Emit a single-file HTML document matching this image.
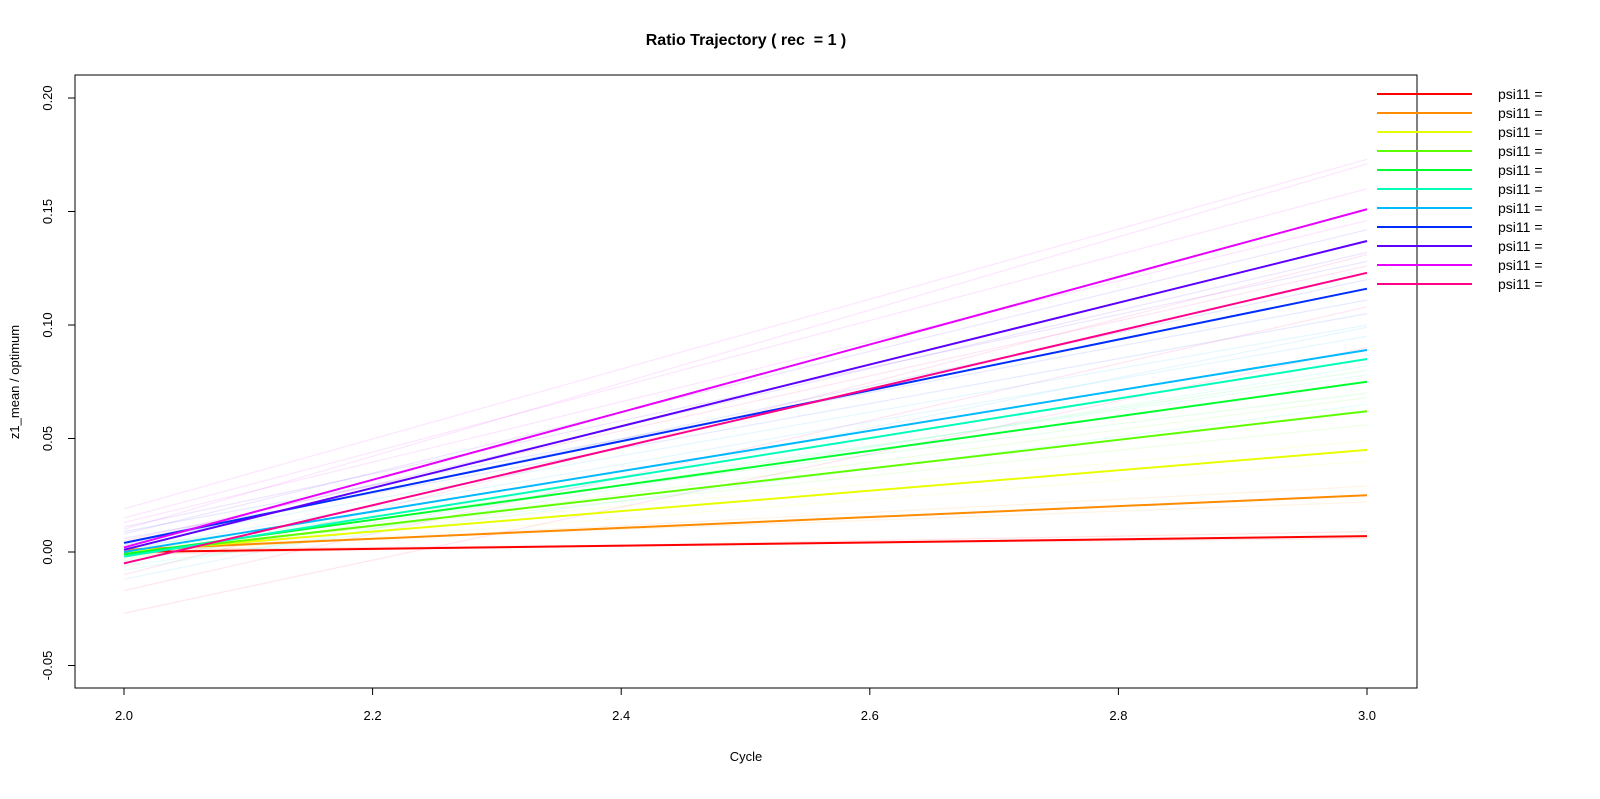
<!DOCTYPE html>
<html><head><meta charset="utf-8"><style>
html,body{margin:0;padding:0;background:#fff}
svg{display:block;font-family:"Liberation Sans",Arial,sans-serif}
</style></head><body>
<svg id="chart" width="1600" height="799" viewBox="0 0 1600 799" xmlns="http://www.w3.org/2000/svg">
<text x="746" y="45" text-anchor="middle" font-size="16" font-weight="bold">Ratio Trajectory ( rec &#160;= 1 )</text>
<text x="746" y="761" text-anchor="middle" font-size="13">Cycle</text>
<text transform="translate(19,382) rotate(-90)" text-anchor="middle" font-size="13">z1_mean / optimum</text>
<g id="faint"></g>
<g id="main"></g>
<rect x="75" y="75" width="1342" height="613" fill="none" stroke="#000" stroke-width="1"/>
<g id="axes"></g>
<g id="legend"></g>
</svg>
<script>
const xTicks = [2.0, 2.2, 2.4, 2.6, 2.8, 3.0];
const xTickLabels = ["2.0","2.2","2.4","2.6","2.8","3.0"];
const yTicks = [-0.05, 0, 0.05, 0.10, 0.15, 0.20];
const yTickLabels = ["-0.05","0.00","0.05","0.10","0.15","0.20"];
const cycles = [2, 3];
const seriesColors = ["#FF0000","#FF8B00","#E8FF00","#5DFF00","#00FF2E","#00FFB9","#00B9FF","#002EFF","#5D00FF","#E800FF","#FF008B"];
const seriesStart = [0.000, 0.001, 0.000, -0.001, -0.001, -0.002, 0.000, 0.004, 0.001, 0.002, -0.005];
const seriesEnd = [0.007, 0.025, 0.045, 0.062, 0.075, 0.085, 0.089, 0.116, 0.137, 0.151, 0.123];
const legendLabels = ["psi11 =","psi11 =","psi11 =","psi11 =","psi11 =","psi11 =","psi11 =","psi11 =","psi11 =","psi11 =","psi11 ="];
const faintColorIdx = [0,0,1,1,2,2,3,3,4,4,5,5,6,6,7,7,8,8,9,9,10,10,9,10,8,7,9,10,6,5];
const faintStart = [0.001,-0.001,0.002,0.000,-0.002,0.001,0.000,-0.003,0.002,-0.004,0.000,-0.008,0.001,-0.012,0.006,0.009,0.011,0.004,0.015,0.019,-0.017,-0.027,0.013,0.005,0.008,0.003,0.010,-0.010,0.004,-0.006];
const faintEnd = [0.006,0.009,0.022,0.029,0.040,0.049,0.056,0.068,0.070,0.080,0.078,0.082,0.095,0.099,0.105,0.111,0.128,0.132,0.160,0.173,0.108,0.090,0.146,0.126,0.142,0.120,0.171,0.131,0.100,0.065];
const X0=124, X1=1367, Y0=552, PX_PER=113.5/0.05;
const xs = v => X0 + (v-2)*(X1-X0);
const ys = v => Y0 - v*PX_PER;
const NS="http://www.w3.org/2000/svg";
function mk(tag, attrs, parent){const e=document.createElementNS(NS,tag);for(const k in attrs)e.setAttribute(k,attrs[k]);parent.appendChild(e);return e;}
const faint=document.getElementById('faint');
faintStart.forEach((s,i)=>{
 const l=mk('line',{x1:xs(cycles[0]),y1:ys(s),x2:xs(cycles[1]),y2:ys(faintEnd[i]),stroke:seriesColors[faintColorIdx[i]],'stroke-opacity':0.1,'stroke-width':1.2},faint);
 
 
});
const main=document.getElementById('main');
seriesStart.forEach((s,i)=>{
 const l=mk('line',{x1:xs(cycles[0]),y1:ys(s),x2:xs(cycles[1]),y2:ys(seriesEnd[i]),stroke:seriesColors[i],'stroke-width':2},main);
 
 
});
const axes=document.getElementById('axes');
mk('line',{x1:xs(xTicks[0]),y1:688,x2:xs(xTicks[xTicks.length-1]),y2:688,stroke:'#000'},axes);
xTicks.forEach((t,i)=>{
 mk('line',{x1:xs(t),y1:688,x2:xs(t),y2:695,stroke:'#000'},axes);
 const tx=mk('text',{x:xs(t),y:720,'text-anchor':'middle','font-size':13},axes);
 tx.textContent=xTickLabels[i];
 
 
});
yTicks.forEach((t,i)=>{
 mk('line',{x1:68,y1:ys(t),x2:75,y2:ys(t),stroke:'#000'},axes);
 const tx=mk('text',{transform:`translate(52,${ys(t)}) rotate(-90)`,'text-anchor':'middle','font-size':13},axes);
 tx.textContent=yTickLabels[i];
 
 
});
const legend=document.getElementById('legend');
legendLabels.forEach((lab,i)=>{
 const y=94+i*19;
 const l=mk('line',{x1:1377,y1:y,x2:1472,y2:y,stroke:seriesColors[i],'stroke-width':2},legend);
 
 
 const tx=mk('text',{x:1498,y:y+5,'font-size':14},legend);
 tx.textContent=lab;
 
 
});
</script>
</body></html>
